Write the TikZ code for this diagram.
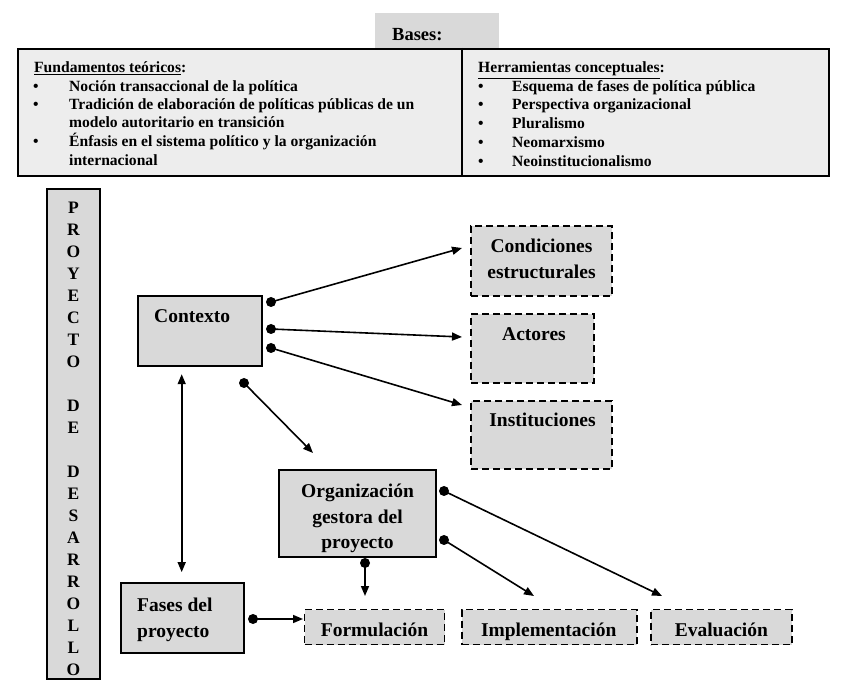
\documentclass[tikz,border=0pt]{standalone}
\usepackage{fontspec}
\setmainfont{Liberation Serif}
\usetikzlibrary{arrows.meta}
\definecolor{boxgray}{HTML}{D9D9D9}
\definecolor{topgray}{HTML}{EDEDED}
\begin{document}
\begin{tikzpicture}[x=1pt,y=-1pt,
  box/.style={draw, line width=1.8pt, fill=boxgray, inner sep=0pt},
  dbox/.style={draw, line width=1.8pt, fill=boxgray, inner sep=0pt, dash pattern=on 7pt off 4pt},
  btxt/.style={font=\fontsize{19.5}{25}\selectfont\bfseries, inner sep=0pt},
  ttxt/.style={font=\fontsize{15.6}{18}\selectfont\bfseries, inner sep=0pt, anchor=base west},
  conn/.style={line width=1.6pt, -{Triangle[length=10pt,width=8pt]}},
  dbl/.style={line width=1.6pt, {Triangle[length=10pt,width=8pt]}-{Triangle[length=10pt,width=8pt]}},
  dotc/.style={fill=black}
]
\useasboundingbox (0,0) rectangle (844,700);

% Bases tab and top box
\node[fill=boxgray, minimum width=124pt, minimum height=35pt, inner sep=0pt] (tab) at (437,31) {};
\node[inner sep=0pt, anchor=base west, font=\fontsize{18.5}{22}\selectfont\bfseries] (tabT) at (392,40.5) {Bases:};
\node[draw, line width=2pt, fill=topgray, minimum width=811pt, minimum height=127pt, inner sep=0pt] (top) at (423.5,112.5) {};
\draw[line width=2pt] (462,0 |- top.north) -- (462,0 |- top.south);

% left column
\node[ttxt] (lh) at (34,73) {\underline{Fundamentos teóricos}:};
\node[ttxt] (lb1) at (33,91.7) {•};
\node[ttxt] (l1) at (69,91.7) {Noción transaccional de la política};
\node[ttxt] (lb2) at (33,110) {•};
\node[ttxt] (l2) at (69,110) {Tradición de elaboración de políticas públicas de un};
\node[ttxt] (l3) at (69,127.7) {modelo autoritario en transición};
\node[ttxt] (lb3) at (33,146.9) {•};
\node[ttxt] (l4) at (69,146.9) {Énfasis en el sistema político y la organización};
\node[ttxt] (l5) at (69,165.4) {internacional};

% right column
\node[ttxt] (rh) at (478,73) {\underline{Herramientas conceptuales}:};
\node[ttxt] (rb1) at (478,91.7) {•};
\node[ttxt] (r1) at (512,91.7) {Esquema de fases de política pública};
\node[ttxt] (rb2) at (478,110) {•};
\node[ttxt] (r2) at (512,110) {Perspectiva organizacional};
\node[ttxt] (rb3) at (478,129) {•};
\node[ttxt] (r3) at (512,129) {Pluralismo};
\node[ttxt] (rb4) at (478,148) {•};
\node[ttxt] (r4) at (512,148) {Neomarxismo};
\node[ttxt] (rb5) at (478,167) {•};
\node[ttxt] (r5) at (512,167) {Neoinstitucionalismo};

% vertical bar
\node[box, minimum width=53pt, minimum height=490pt] (vbar) at (73.5,434) {};
\node[inner sep=0pt, anchor=north, align=center, font=\fontsize{17.5}{22}\selectfont\bfseries] (vbarT) at (73.5,202)
 {P\\R\\O\\Y\\E\\C\\T\\O\\[22pt]D\\E\\[22pt]D\\E\\S\\A\\R\\R\\O\\L\\L\\O};

% diagram boxes
\node[box, minimum width=124pt, minimum height=70pt] (ctx) at (200,331) {};
\node[btxt, anchor=base west] (ctxT) at (154,323) {Contexto};

\node[box, minimum width=123pt, minimum height=70pt] (fases) at (182.5,618) {};
\node[btxt, anchor=base west] (fasesA) at (137,611) {Fases del};
\node[btxt, anchor=base west] (fasesB) at (137,637.5) {proyecto};

\node[dbox, minimum width=141pt, minimum height=70pt] (cond) at (541.5,261) {};
\node[btxt, anchor=base] (condA) at (541.5,253) {Condiciones};
\node[btxt, anchor=base] (condB) at (541.5,278.5) {estructurales};

\node[dbox, minimum width=123pt, minimum height=69pt] (act) at (532.5,348.5) {};
\node[btxt, anchor=base] (actT) at (534,340.5) {Actores};

\node[dbox, minimum width=141pt, minimum height=68pt] (inst) at (541.5,435) {};
\node[btxt, anchor=base] (instT) at (542.5,427) {Instituciones};

\node[box, minimum width=157pt, minimum height=87pt] (org) at (357.5,513.5) {};
\node[btxt, anchor=base] (orgA) at (357.5,498) {Organización};
\node[btxt, anchor=base] (orgB) at (357.5,523.5) {gestora del};
\node[btxt, anchor=base] (orgC) at (357.5,549) {proyecto};

\node[dbox, minimum width=140pt, minimum height=35pt] (form) at (374.5,627) {};
\node[btxt, anchor=base] (formT) at (374.5,636) {Formulación};
\node[dbox, minimum width=175pt, minimum height=35pt] (impl) at (549.3,627) {};
\node[btxt, anchor=base] (implT) at (548.7,636) {Implementación};
\node[dbox, minimum width=141pt, minimum height=35pt] (eval) at (721.5,627) {};
\node[btxt, anchor=base] (evalT) at (721.4,636) {Evaluación};

% connector end points
\coordinate (d1) at (271,302); \coordinate (t1) at (462,248);
\coordinate (d2) at (271,329); \coordinate (t2) at (462,337);
\coordinate (d3) at (271,348); \coordinate (t3) at (462,405);
\coordinate (d4) at (244,383); \coordinate (t4) at (313,453);
\coordinate (d5) at (365,563); \coordinate (t5) at (365,596);
\coordinate (d6) at (444,540); \coordinate (t6) at (534,596);
\coordinate (d7) at (444,491); \coordinate (t7) at (662,596);
\coordinate (d8) at (253,619); \coordinate (t8) at (303,619);

% connectors
\draw[conn] (d1) -- (t1);
\draw[conn] (d2) -- (t2);
\draw[conn] (d3) -- (t3);
\draw[conn] (d4) -- (t4);
\draw[conn] (d5) -- (t5);
\draw[conn] (d6) -- (t6);
\draw[conn] (d7) -- (t7);
\draw[conn] (d8) -- (t8);
\foreach \d in {d1,d2,d3,d4,d5,d6,d7,d8} \fill[dotc] (\d) circle[radius=5pt];

\draw[dbl] ([xshift=-18.3pt,yshift=-7.3pt]ctx.south) -- ([xshift=-0.8pt,yshift=10pt]fases.north);
\end{tikzpicture}
\end{document}
